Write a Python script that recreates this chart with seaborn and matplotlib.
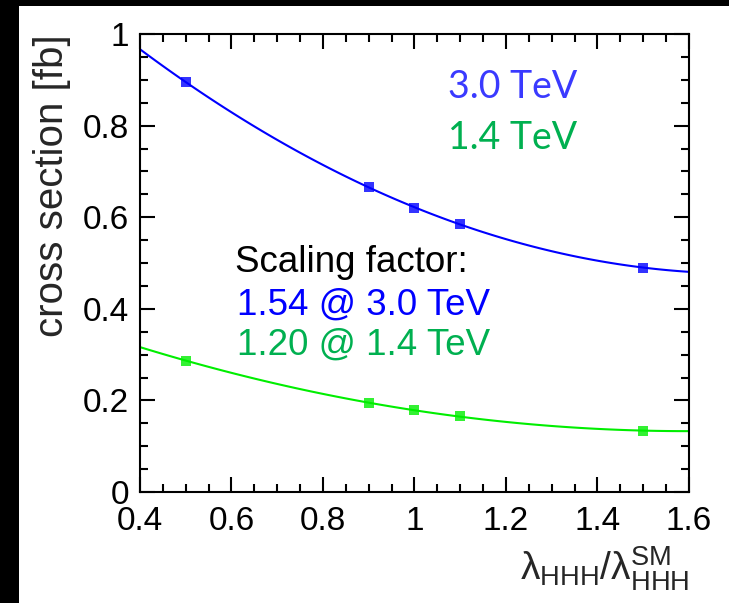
import matplotlib
matplotlib.use("Agg")
import matplotlib.pyplot as plt
import seaborn as sns
import numpy as np
import pandas as pd
from matplotlib.patches import Rectangle
from matplotlib.ticker import FixedLocator, MultipleLocator, FixedFormatter

# ---- data ----
lam_ratio = [0.5, 0.9, 1.0, 1.1, 1.5]
xsec_3tev = [0.895, 0.666, 0.620, 0.585, 0.490]
xsec_14tev = [0.287, 0.195, 0.178, 0.165, 0.134]
x_ticks = [0.4, 0.6, 0.8, 1.0, 1.2, 1.4, 1.6]
x_ticklabels = ["0.4", "0.6", "0.8", "1", "1.2", "1.4", "1.6"]
y_ticks = [0.0, 0.2, 0.4, 0.6, 0.8, 1.0]
y_ticklabels = ["0", "0.2", "0.4", "0.6", "0.8", "1"]
label_3tev = "3.0 TeV"
label_14tev = "1.4 TeV"
scaling_title = "Scaling factor:"
scaling_3tev = "1.54 @ 3.0 TeV"
scaling_14tev = "1.20 @ 1.4 TeV"

df = pd.DataFrame({"lam": lam_ratio, "s3": xsec_3tev, "s14": xsec_14tev})

sns.set_style("ticks")
plt.rcParams["font.family"] = ["Liberation Sans", "DejaVu Sans"]
plt.rcParams["mathtext.fontset"] = "custom"
plt.rcParams["mathtext.rm"] = "Liberation Sans"
plt.rcParams["mathtext.it"] = "Liberation Sans:italic"

fig = plt.figure(figsize=(7.29, 6.03), dpi=100)
fig.patch.set_facecolor("white")
ax = fig.add_axes([140 / 729, 1 - 492 / 603, 549 / 729, 458 / 603])
ax.set_xlim(0.4, 1.6)
ax.set_ylim(0, 1)

BLUE = "#0000ff"
GREEN = "#00ee00"

sns.regplot(data=df, x="lam", y="s3", order=2, ci=None, truncate=False, ax=ax,
            marker="s", color=BLUE,
            scatter_kws={"s": 58, "linewidths": 0, "zorder": 3},
            line_kws={"lw": 1.5, "zorder": 2})
sns.regplot(data=df, x="lam", y="s14", order=2, ci=None, truncate=False, ax=ax,
            marker="s", color=GREEN,
            scatter_kws={"s": 58, "linewidths": 0, "zorder": 3},
            line_kws={"lw": 1.5, "zorder": 2})

ax.set_xlim(0.4, 1.6)
ax.set_ylim(0, 1)

ax.xaxis.set_major_locator(FixedLocator(x_ticks))
ax.xaxis.set_major_formatter(FixedFormatter(x_ticklabels))
ax.yaxis.set_major_locator(FixedLocator(y_ticks))
ax.yaxis.set_major_formatter(FixedFormatter(y_ticklabels))
ax.xaxis.set_minor_locator(MultipleLocator(0.05))
ax.yaxis.set_minor_locator(MultipleLocator(0.05))

ax.tick_params(which="both", direction="in", top=True, right=True,
               width=1.5, color="black", labelsize=24, labelcolor="black")
ax.tick_params(which="major", length=11)
ax.tick_params(which="minor", length=5.5)
ax.tick_params(axis="x", which="major", pad=10)
ax.tick_params(axis="y", which="major", pad=8)

for sp in ax.spines.values():
    sp.set_visible(True)
    sp.set_linewidth(1.5)
    sp.set_color("black")

ax.set_ylabel("cross section [fb]", fontsize=29)
ax.yaxis.set_label_coords(-0.125, 1.0)
ax.yaxis.label.set_ha("right")
ax.set_xlabel(r"$\mathrm{λ_{HHH}/λ_{HHH}^{SM}}$", fontsize=28)
ax.xaxis.set_label_coords(1.0, -0.115)
ax.xaxis.label.set_ha("right")
ax.xaxis.label.set_va("top")

ax.text(1.073, 0.885, label_3tev, color="#3a3aff", fontsize=27, family=["Lato", "DejaVu Sans"],
        ha="left", va="center")
ax.text(1.073, 0.772, label_14tev, color="#00b050", fontsize=27, family=["Lato", "DejaVu Sans"],
        ha="left", va="center")
ax.text(0.608, 0.480, scaling_title, color="black", fontsize=26.5, ha="left", va="baseline")
ax.text(0.612, 0.3865, scaling_3tev, color=BLUE, fontsize=26.5, ha="left", va="baseline")
ax.text(0.612, 0.299, scaling_14tev, color="#00b050", fontsize=26.5, ha="left", va="baseline")

# black frame strips
fig.add_artist(Rectangle((0, 0), 19 / 729, 1, transform=fig.transFigure,
                         facecolor="black", edgecolor="none", zorder=10))
fig.add_artist(Rectangle((0, 1 - 6 / 603), 1, 6 / 603, transform=fig.transFigure,
                         facecolor="black", edgecolor="none", zorder=10))

fig.savefig("out.png", dpi=100, facecolor="white")
